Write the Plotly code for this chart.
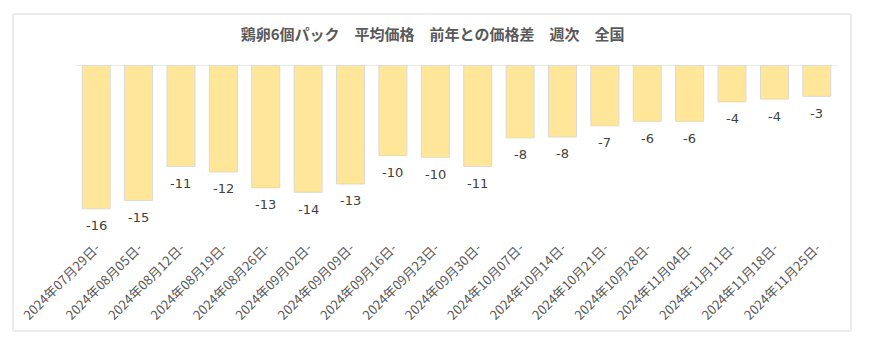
import plotly.graph_objects as go

categories = ["2024年07月29日-", "2024年08月05日-", "2024年08月12日-", "2024年08月19日-",
              "2024年08月26日-", "2024年09月02日-", "2024年09月09日-", "2024年09月16日-",
              "2024年09月23日-", "2024年09月30日-", "2024年10月07日-", "2024年10月14日-",
              "2024年10月21日-", "2024年10月28日-", "2024年11月04日-", "2024年11月11日-",
              "2024年11月18日-", "2024年11月25日-"]
price_diff = [-15.6, -14.7, -11.0, -11.6, -13.3, -13.8, -12.9, -9.8, -10.0, -11.0,
              -7.9, -7.8, -6.6, -6.1, -6.1, -4.0, -3.7, -3.4]
labels = [str(round(v)) for v in price_diff]

title_text = "鶏卵6個パック　平均価格　前年との価格差　週次　全国"

W, H = 874, 353
fig = go.Figure()
fig.add_trace(go.Bar(
    x=categories, y=price_diff,
    marker=dict(color="#FFE699", line=dict(color="#D9D9D9", width=1)),
    hoverinfo="skip",
))

for c, v, t in zip(categories, price_diff, labels):
    fig.add_annotation(x=c, y=v, text=t, showarrow=False, yshift=-17,
                       font=dict(family="DejaVu Sans", size=13, color="#404040"))

# zero line
fig.add_shape(type="line", xref="paper", yref="y", x0=0, x1=1, y0=0, y1=0,
              line=dict(color="#D9D9D9", width=1))
# chart border
fig.add_shape(type="rect", xref="paper", yref="paper",
              x0=(13 - 75) / (W - 75 - 36), x1=(851 - 75) / (W - 75 - 36),
              y0=-(331 - 231) / (231 - 65), y1=1 + (65 - 14) / (231 - 65),
              line=dict(color="#D9D9D9", width=1), fillcolor="rgba(0,0,0,0)", layer="below")

fig.update_layout(
    width=W, height=H,
    margin=dict(l=75, r=36, t=65, b=122),
    paper_bgcolor="white", plot_bgcolor="white",
    bargap=0.34,
    showlegend=False,
    title=dict(text="<b>" + title_text + "</b>", x=0.495, xanchor="center", y=1 - 35 / H, yanchor="middle",
               font=dict(family="Noto Sans CJK JP", size=15, color="#595959")),
    xaxis=dict(tickangle=-45, showgrid=False, showline=False, ticks="", ticklabelstandoff=6,
               tickfont=dict(family="Noto Sans CJK JP", size=13, color="#595959")),
    yaxis=dict(range=[-18, 0], visible=False, showgrid=False, zeroline=False),
)

fig.write_html("out.html")
